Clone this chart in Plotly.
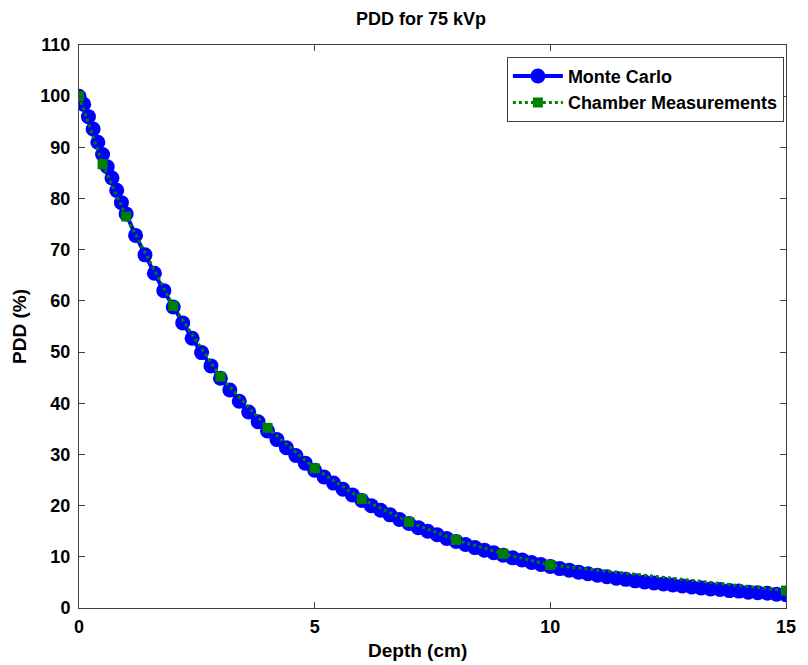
import plotly.graph_objects as go

mc_depth = [0.0, 0.1, 0.2, 0.3, 0.4, 0.5, 0.6, 0.7, 0.8, 0.9, 1.0,
            1.2, 1.4, 1.6, 1.8, 2.0, 2.2, 2.4, 2.6, 2.8, 3.0,
            3.2, 3.4, 3.6, 3.8, 4.0, 4.2, 4.4, 4.6, 4.8, 5.0,
            5.2, 5.4, 5.6, 5.8, 6.0, 6.2, 6.4, 6.6, 6.8, 7.0,
            7.2, 7.4, 7.6, 7.8, 8.0, 8.2, 8.4, 8.6, 8.8, 9.0,
            9.2, 9.4, 9.6, 9.8, 10.0, 10.2, 10.4, 10.6, 10.8, 11.0,
            11.2, 11.4, 11.6, 11.8, 12.0, 12.2, 12.4, 12.6, 12.8, 13.0,
            13.2, 13.4, 13.6, 13.8, 14.0, 14.2, 14.4, 14.6, 14.8, 15.0]
mc_pdd = [100.0, 98.4, 96.0, 93.6, 91.0, 88.6, 86.2, 84.0, 81.6, 79.2, 77.0,
          72.8, 69.0, 65.4, 62.0, 58.8, 55.7, 52.7, 49.9, 47.3, 44.9,
          42.6, 40.4, 38.3, 36.4, 34.6, 32.9, 31.3, 29.8, 28.3, 26.9,
          25.6, 24.4, 23.2, 22.1, 21.0, 20.0, 19.1, 18.2, 17.3, 16.5,
          15.7, 15.0, 14.3, 13.6, 13.0, 12.4, 11.8, 11.3, 10.8, 10.3,
          9.8, 9.4, 8.9, 8.5, 8.1, 7.7, 7.4, 7.0, 6.7, 6.4,
          6.1, 5.8, 5.6, 5.3, 5.1, 4.9, 4.7, 4.5, 4.3, 4.1,
          3.9, 3.7, 3.6, 3.4, 3.3, 3.1, 3.0, 2.9, 2.7, 2.6]

ch_depth = [0, 0.5, 1, 2, 3, 4, 5, 6, 7, 8, 9, 10, 15]
ch_pdd = [100.0, 86.7, 76.5, 59.0, 45.2, 35.2, 27.3, 21.3, 16.8, 13.3, 10.6, 8.4, 3.4]

x_ticks = [0, 5, 10, 15]
y_ticks = list(range(0, 111, 10))

FONT = "Liberation Sans, Arial, sans-serif"

fig = go.Figure()
fig.add_trace(go.Scatter(
    x=mc_depth, y=mc_pdd, name="Monte Carlo", mode="lines+markers",
    line=dict(color="#0000ff", width=4),
    marker=dict(symbol="circle", size=15, color="#0000ff"),
))
fig.add_trace(go.Scatter(
    x=ch_depth, y=ch_pdd, name="Chamber Measurements", mode="lines+markers",
    line=dict(color="#008000", width=3, dash="dot"),
    marker=dict(symbol="square", size=10, color="#008000"),
))

axis_common = dict(
    showline=True, linecolor="#404040", linewidth=1, mirror="ticks",
    ticks="inside", ticklen=6, tickcolor="#404040",
    showgrid=False, zeroline=False,
    tickfont=dict(family=FONT, size=18, color="black", weight="bold"),
)

fig.update_layout(
    width=808, height=665,
    margin=dict(l=79, r=15, t=45, b=57),
    paper_bgcolor="white", plot_bgcolor="white",
    title=dict(text="PDD for 75 kVp", x=0.521, xanchor="center", y=0.972, yanchor="middle",
               font=dict(family=FONT, size=18, color="black", weight="bold")),
    xaxis=dict(range=[0, 15], tickvals=x_ticks, ticklabelstandoff=2, **axis_common),
    yaxis=dict(range=[0, 110], tickvals=y_ticks, ticklabelstandoff=4, **axis_common,
               title=dict(text="PDD (%)", standoff=8,
                          font=dict(family=FONT, size=19, color="black", weight="bold"))),
    legend=dict(x=0.997, y=0.979, xanchor="right", yanchor="top",
                bgcolor="white", bordercolor="#404040", borderwidth=1,
                font=dict(family=FONT, size=18, color="black", weight="bold"),
                itemwidth=50, tracegroupgap=0),
    showlegend=True,
    annotations=[dict(text="Depth (cm)", xref="paper", yref="paper",
                      x=(421 - 79) / 714, y=-0.075, xanchor="center", yanchor="middle",
                      showarrow=False,
                      font=dict(family=FONT, size=19, color="black", weight="bold"))],
)

fig.write_html("out.html")
